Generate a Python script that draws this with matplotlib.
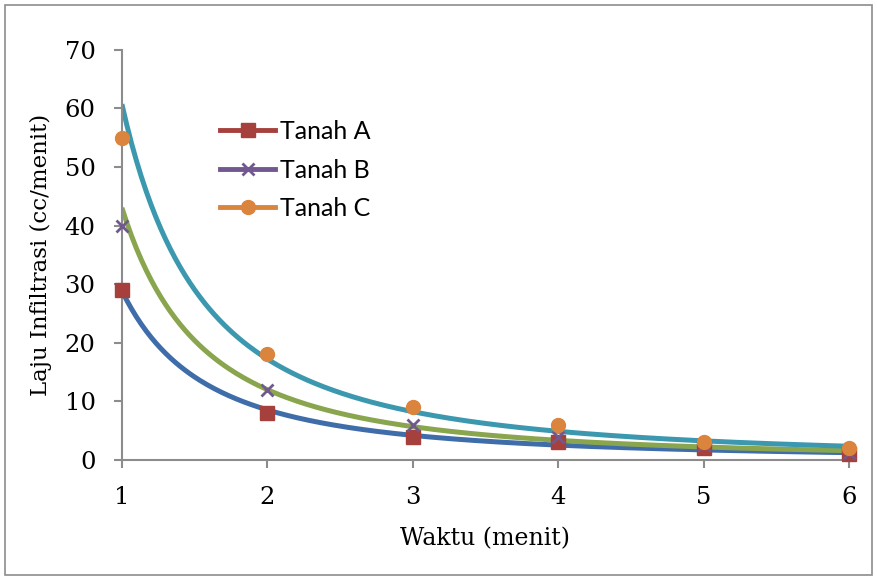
import numpy as np
from matplotlib import pyplot as plt
from matplotlib.lines import Line2D
from matplotlib.patches import Rectangle

# Data
waktu = [1, 2, 3, 4, 5, 6]
tanah_a = [29, 8, 4, 3, 2, 1]
tanah_b = [40, 12, 6, 4, 2.5, 1.2]
tanah_c = [55, 18, 9, 6, 3, 2]
labels = ['Tanah A', 'Tanah B', 'Tanah C']

marker_colors = ['#A5403D', '#71588F', '#DB843D']
trend_colors = ['#3F6DA9', '#89A54E', '#3C98AF']
markers = ['s', 'x', 'o']
msizes = [10, 8, 10]

fig = plt.figure(figsize=(8.77, 5.8), dpi=100)
ax = fig.add_axes([0.139, 0.207, 0.829, 0.707])

# bingkai luar seperti chart Excel
fig.patches.append(Rectangle((0.006, 0.008), 0.988, 0.984, transform=fig.transFigure,
                             fill=False, edgecolor='#8c8c8c', lw=1.2))

xs = np.linspace(1, 6, 300)
handles = []
for y, lab, mc, tc, mk, ms in zip([tanah_a, tanah_b, tanah_c], labels,
                                  marker_colors, trend_colors, markers, msizes):
    # trendline power (seperti Excel): y = a * x^b
    b, lna = np.polyfit(np.log(waktu), np.log(y), 1)
    ax.plot(xs, np.exp(lna) * xs ** b, color=tc, lw=3.6, zorder=2, solid_capstyle='butt')
    handles.append(Line2D([], [], color=mc, lw=3.5, marker=mk, markersize=ms,
                          markeredgewidth=2 if mk == 'x' else 1, markeredgecolor=mc))

for y, mc, mk, ms in zip([tanah_a, tanah_b, tanah_c], marker_colors, markers, msizes):
    ax.plot(waktu, y, linestyle='none', marker=mk, markersize=ms, color=mc,
            markeredgecolor=mc, markeredgewidth=2 if mk == 'x' else 1, zorder=3, clip_on=False)

ax.set_xlim(1, 6)
ax.set_ylim(0, 70)
ax.set_xticks(waktu)
ax.set_yticks(range(0, 71, 10))

for s in ['top', 'right']:
    ax.spines[s].set_visible(False)
for s in ['left', 'bottom']:
    ax.spines[s].set_color('#8c8c8c')
    ax.spines[s].set_linewidth(1.5)
ax.tick_params(colors='#8c8c8c', width=1.5, length=6, labelcolor='black',
               labelsize=17.5, pad=13)
for t in ax.get_xticklabels() + ax.get_yticklabels():
    t.set_family('DejaVu Serif')

ax.set_xlabel('Waktu (menit)', fontsize=17, family='DejaVu Serif', labelpad=13)
ax.set_ylabel('Laju Infiltrasi (cc/menit)', fontsize=16.5, family='DejaVu Serif', labelpad=9)

leg = fig.legend(handles, labels, loc='upper left', bbox_to_anchor=(0.251, 0.793),
                 frameon=False, prop={'family': 'Lato', 'size': 18},
                 borderpad=0, borderaxespad=0,
                 handlelength=2.2, handletextpad=0.2, labelspacing=0.62)

fig.savefig('out.png', dpi=100)
